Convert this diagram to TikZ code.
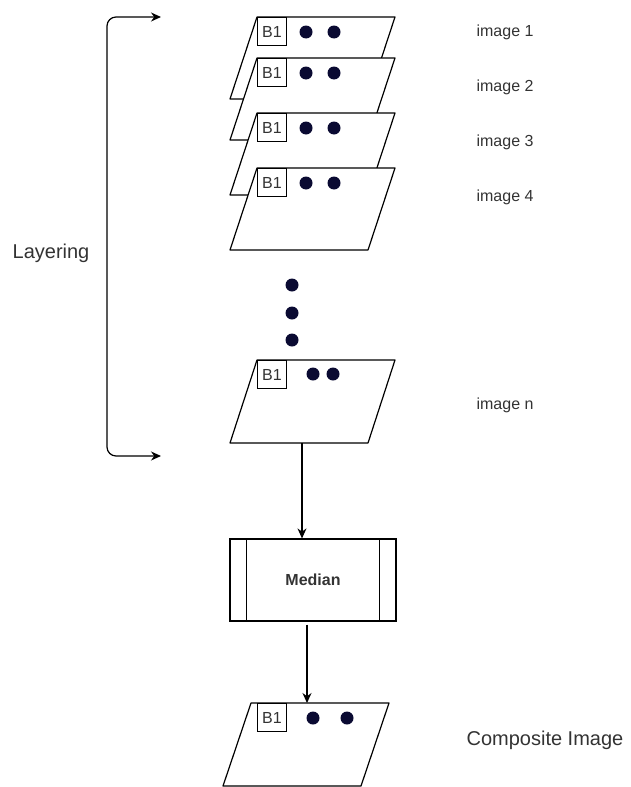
\documentclass[tikz,border=0pt]{standalone}
\usepackage{fontspec}
\setmainfont{Liberation Sans}
\usepackage{tikz}
\usetikzlibrary{arrows.meta}
\usetikzlibrary{calc}
\usetikzlibrary{positioning}
\definecolor{spotblue}{HTML}{0A0A32}

\begin{document}
\begin{tikzpicture}[x=1pt, y=-1pt, line width=1.2pt, >={Stealth[length=10pt, width=9pt]}]
	\tikzstyle{sheet}=[draw, fill=white, line join=round];
	\tikzstyle{tag}=[draw, fill=white, line width=1pt, anchor=north west, inner sep=0pt,
	                        minimum width=29pt, minimum height=28pt,
	                        font=\fontsize{16}{16}\selectfont, text=black!80];
	\tikzstyle{spot}=[circle, fill=spotblue, inner sep=0pt, minimum size=13pt];
	\tikzstyle{lbl}=[anchor=west, inner sep=0pt, font=\fontsize{16}{16}\selectfont, text=black!80];
	\useasboundingbox (0,0) rectangle (631,787);
	% stacked input images, later ones drawn over earlier ones
	\foreach \i/\y/\ly in {1/17/32, 2/58/87, 3/113/142, 4/168/197}
	{
	\coordinate (img\i) at (257,\y);
	\draw[sheet] (img\i) -- ++(138,0) -- ++(-27,82) -- ++(-138,0) -- cycle;
	\node[tag] (b\i) at (img\i) {B1};
	\node[spot] (p\i) at ($(img\i)+(49,15)$) {};
	\node[spot] (q\i) at ($(img\i)+(77,15)$) {};
	\node[lbl] (t\i) at (476,\ly) {image \i};
	}
	\foreach \y in {285, 313, 340}
	{\node[spot] at (292,\y) {};}
	% last image
	\coordinate (imgn) at (257,360);
	\draw[sheet] (imgn) -- ++(138,0) -- ++(-27,83) -- ++(-138,0) -- cycle;
	\node[tag] (bn) at (imgn) {B1};
	\node[spot] (pn) at ($(imgn)+(56,14)$) {};
	\node[spot] (qn) at ($(imgn)+(76,14)$) {};
	\node[lbl] (tn) at (476,405) {image n};
	% median step
	\node[draw, minimum width=166pt, minimum height=82pt, inner sep=0pt,
	      font=\bfseries\fontsize{16}{16}\selectfont, text=black!80] (med) at (313,580) {Median};
	\draw ([xshift=17pt]med.north west) -- ([xshift=17pt]med.south west);
	\draw ([xshift=-17pt]med.north east) -- ([xshift=-17pt]med.south east);
	% composite result
	\coordinate (comp) at (251,703);
	\draw[sheet] (comp) -- ++(138,0) -- ++(-28,83) -- ++(-138,0) -- cycle;
	\node[tag] (bc) at ($(comp)+(6,0)$) {B1};
	\node[spot] (pc) at ($(comp)+(62,15)$) {};
	\node[spot] (qc) at ($(comp)+(96,15)$) {};
	\node[lbl, font=\fontsize{20}{20}\selectfont] (tc) at (466,740) {Composite Image};
	% flow arrows
	\coordinate (nfoot) at (302,443);
	\coordinate (ctop) at (307,703);
	\draw[->] (nfoot) -- (nfoot |- med.north);
	\draw[->] ([yshift=-3pt]ctop |- med.south) -- (ctop);
	% layering bracket
	\coordinate (lt) at (161,17);
	\coordinate (lb) at (161,456);
	\draw[<->, rounded corners=9pt] (lt) -- ++(-54,0) -- ([xshift=-54pt]lb) -- (lb);
	\node[lbl, anchor=center, font=\fontsize{20}{20}\selectfont] (layer) at (51,253) {Layering};
\end{tikzpicture}
\end{document}
